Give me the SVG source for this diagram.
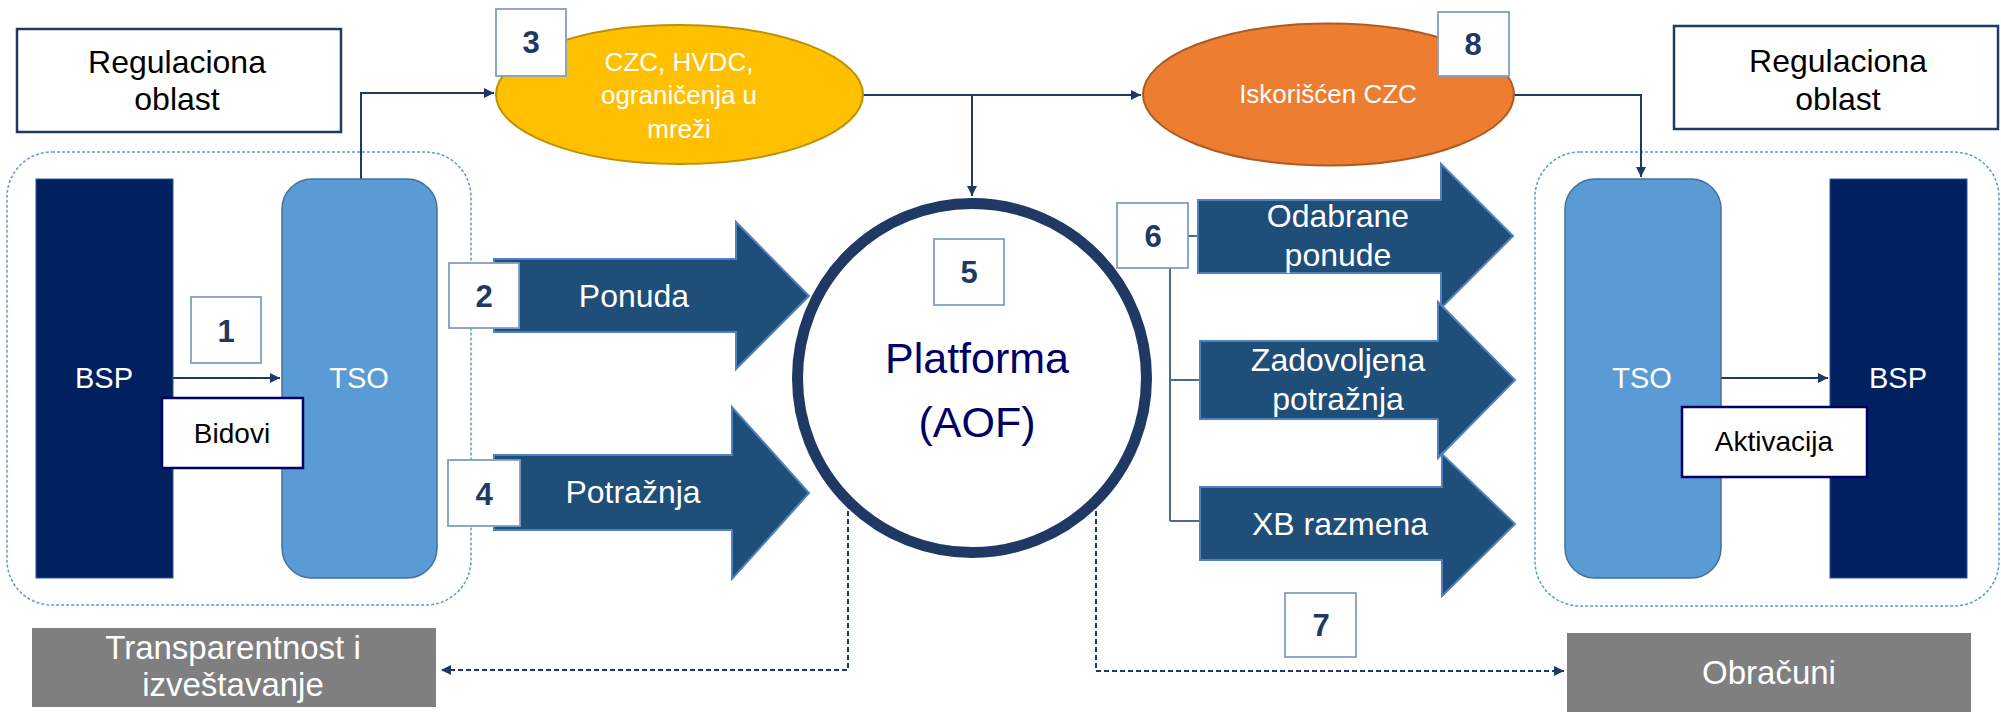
<svg xmlns="http://www.w3.org/2000/svg" width="2001" height="712" viewBox="0 0 2001 712">
<defs>
<style>
.t{font-family:"Liberation Sans",Arial,sans-serif;}
.reg{fill:#fff;stroke:#1f3864;stroke-width:2.5}
.regt{font-size:32px;fill:#000;text-anchor:middle}
.cont{fill:none;stroke:#5b9bd5;stroke-width:1.5;stroke-dasharray:3 2}
.bsp{fill:#002060;stroke:#2f5597;stroke-width:1}
.tso{fill:#5b9bd5;stroke:#41719c;stroke-width:1.5}
.wt{fill:#fff;text-anchor:middle}
.num{fill:#fff;stroke:#7f9fc6;stroke-width:1.8}
.numt{font-size:31px;font-weight:bold;fill:#1f3864;text-anchor:middle}
.lbl{fill:#fff;stroke:#000066;stroke-width:2.5}
.lblt{font-size:28px;fill:#000;text-anchor:middle}
.big{fill:#1f4e79;stroke:#4f81bd;stroke-width:2}
.bigt{font-size:32px;fill:#fff;text-anchor:middle}
.gray{fill:#7f7f7f}
.ln{fill:none;stroke:#1f3864;stroke-width:2}
.ln6{fill:none;stroke:#4a6a95;stroke-width:2}
.dash{fill:none;stroke:#1f3864;stroke-width:2;stroke-dasharray:5 3}
</style>
<marker id="ah" viewBox="0 0 10 10" refX="10" refY="5" markerWidth="5" markerHeight="5" orient="auto" markerUnits="strokeWidth">
<path d="M0,0 L10,5 L0,10 Z" fill="#1f3864"/>
</marker>
</defs>
<rect width="2001" height="712" fill="#fff"/>

<g id="left-area">
<rect class="cont" x="7" y="152" width="464" height="453" rx="45"/>
</g>
<g id="right-area">
<rect class="cont" x="1535" y="152" width="464" height="454" rx="45"/>
</g>

<g id="connectors">
<path class="ln" d="M361,179 V93 H494" marker-end="url(#ah)"/>
<path class="ln" d="M863,95 H1141" marker-end="url(#ah)"/>
<path class="ln" d="M972,95 V196" marker-end="url(#ah)"/>
<path class="ln" d="M1514,95 H1641 V177" marker-end="url(#ah)"/>
<path class="ln" d="M173,378 H280" marker-end="url(#ah)"/>
<path class="ln" d="M1721,378 H1828" marker-end="url(#ah)"/>
<path class="ln6" d="M1188,236 H1198 M1170,268 V521 M1170,380 H1200 M1170,521 H1200"/>
<path class="dash" d="M848,503 V670 H441" marker-end="url(#ah)"/>
<path class="dash" d="M1096,503 V671 H1564" marker-end="url(#ah)"/>
</g>

<g id="reg-left">
<rect class="reg" x="17" y="29" width="324" height="103"/>
<text class="t regt" x="177" y="73">Regulaciona</text>
<text class="t regt" x="177" y="110">oblast</text>
</g>
<g id="reg-right">
<rect class="reg" x="1674" y="26" width="324" height="103"/>
<text class="t regt" x="1838" y="72">Regulaciona</text>
<text class="t regt" x="1838" y="110">oblast</text>
</g>

<g id="bsp-left">
<rect class="bsp" x="36" y="179" width="137" height="399"/>
<text class="t wt" x="104" y="388" font-size="29">BSP</text>
</g>
<g id="tso-left">
<rect class="tso" x="282" y="179" width="155" height="399" rx="30"/>
<text class="t wt" x="359" y="388" font-size="29">TSO</text>
</g>
<g id="tso-right">
<rect class="tso" x="1565" y="179" width="156" height="399" rx="30"/>
<text class="t wt" x="1642" y="388" font-size="29">TSO</text>
</g>
<g id="bsp-right">
<rect class="bsp" x="1830" y="179" width="137" height="399"/>
<text class="t wt" x="1898" y="388" font-size="29">BSP</text>
</g>

<g id="bidovi">
<rect class="lbl" x="162" y="398" width="141" height="70"/>
<text class="t lblt" x="232" y="443">Bidovi</text>
</g>
<g id="aktivacija">
<rect class="lbl" x="1682" y="407" width="185" height="70"/>
<text class="t lblt" x="1774" y="451">Aktivacija</text>
</g>

<g id="ellipse-czc">
<ellipse cx="679.5" cy="94.5" rx="183.5" ry="69.5" fill="#ffc000" stroke="#bf9000" stroke-width="2"/>
<text class="t wt" x="679" y="71" font-size="26">CZC, HVDC,</text>
<text class="t wt" x="679" y="104" font-size="26">ograničenja u</text>
<text class="t wt" x="679" y="138" font-size="26">mreži</text>
</g>
<g id="ellipse-iskoriscen">
<ellipse cx="1328.5" cy="94.5" rx="185.5" ry="71" fill="#ed7d31" stroke="#ae5a21" stroke-width="2"/>
<text class="t wt" x="1328" y="103" font-size="26">Iskorišćen CZC</text>
</g>

<g id="platforma">
<circle cx="972" cy="378" r="174.5" fill="#fff" stroke="#1f3864" stroke-width="11"/>
<text class="t" x="977" y="373" font-size="43" fill="#000066" text-anchor="middle">Platforma</text>
<text class="t" x="977" y="437" font-size="43" fill="#000066" text-anchor="middle">(AOF)</text>
</g>

<g id="arrow-ponuda">
<path class="big" d="M494,259 H736 V222 L809,296 L736,369 V332 H494 Z"/>
<text class="t bigt" x="634" y="307">Ponuda</text>
</g>
<g id="arrow-potraznja">
<path class="big" d="M494,455 H732 V407 L809,493 L732,579 V530 H494 Z"/>
<text class="t bigt" x="633" y="503">Potražnja</text>
</g>
<g id="arrow-odabrane">
<path class="big" d="M1198,200 H1441 V164 L1513,236 L1441,308 V273 H1198 Z"/>
<text class="t bigt" x="1338" y="227">Odabrane</text>
<text class="t bigt" x="1338" y="266">ponude</text>
</g>
<g id="arrow-zadovoljena">
<path class="big" d="M1200,341 H1438 V302 L1515,380 L1438,458 V419 H1200 Z"/>
<text class="t bigt" x="1338" y="371">Zadovoljena</text>
<text class="t bigt" x="1338" y="410">potražnja</text>
</g>
<g id="arrow-xb">
<path class="big" d="M1200,487 H1442 V454 L1515,524 L1442,596 V560 H1200 Z"/>
<text class="t bigt" x="1340" y="535">XB razmena</text>
</g>

<g id="transparentnost">
<rect class="gray" x="32" y="628" width="404" height="79"/>
<text class="t wt" x="233" y="659" font-size="33">Transparentnost i</text>
<text class="t wt" x="233" y="696" font-size="33">izveštavanje</text>
</g>
<g id="obracuni">
<rect class="gray" x="1567" y="633" width="404" height="79"/>
<text class="t wt" x="1769" y="684" font-size="33">Obračuni</text>
</g>

<g id="n1"><rect class="num" x="191" y="297" width="70" height="66"/><text class="t numt" x="226" y="342">1</text></g>
<g id="n2"><rect class="num" x="449" y="263" width="70" height="65"/><text class="t numt" x="484" y="307">2</text></g>
<g id="n3"><rect class="num" x="496" y="9" width="70" height="67"/><text class="t numt" x="531" y="53">3</text></g>
<g id="n4"><rect class="num" x="448" y="460" width="72" height="66"/><text class="t numt" x="484" y="505">4</text></g>
<g id="n5"><rect class="num" x="934" y="239" width="70" height="66"/><text class="t numt" x="969" y="283">5</text></g>
<g id="n6"><rect class="num" x="1117" y="203" width="71" height="65"/><text class="t numt" x="1153" y="247">6</text></g>
<g id="n7"><rect class="num" x="1285" y="593" width="71" height="64"/><text class="t numt" x="1321" y="636">7</text></g>
<g id="n8"><rect class="num" x="1438" y="12" width="71" height="64"/><text class="t numt" x="1473" y="55">8</text></g>
</svg>
